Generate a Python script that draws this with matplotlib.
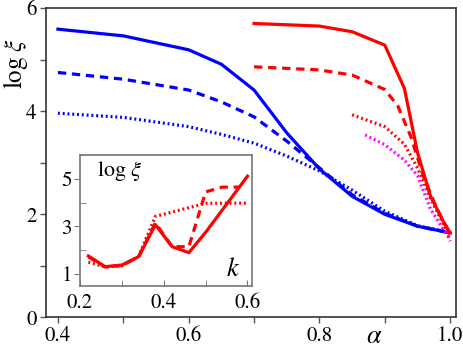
import matplotlib
matplotlib.use("Agg")
import matplotlib.pyplot as plt
from matplotlib.ticker import MultipleLocator, FixedLocator

plt.rcParams['font.family'] = ['STIXGeneral', 'Liberation Serif', 'DejaVu Serif']
plt.rcParams['mathtext.fontset'] = 'stix'

# ---- main panel data (alpha, log xi) ----
blue_solid_a = [0.4, 0.5, 0.6, 0.65, 0.7, 0.75, 0.8, 0.85, 0.9, 0.95, 1.0]
blue_solid_y = [5.59, 5.46, 5.19, 4.91, 4.41, 3.58, 2.88, 2.35, 2.0, 1.77, 1.64]
blue_dash_a = [0.4, 0.5, 0.6, 0.65, 0.7, 0.75, 0.8, 0.85, 0.9, 0.95, 1.0]
blue_dash_y = [4.75, 4.62, 4.41, 4.18, 3.89, 3.42, 2.9, 2.38, 2.02, 1.77, 1.64]
blue_dot_a = [0.4, 0.5, 0.6, 0.65, 0.7, 0.75, 0.8, 0.85, 0.9, 0.95, 1.0]
blue_dot_y = [3.96, 3.88, 3.7, 3.55, 3.38, 3.13, 2.84, 2.47, 2.06, 1.78, 1.65]

red_solid_a = [0.7, 0.8, 0.85, 0.9, 0.93, 0.95, 0.97, 0.99, 1.0]
red_solid_y = [5.70, 5.65, 5.54, 5.28, 4.44, 3.2, 2.35, 1.85, 1.64]
red_dash_a = [0.7, 0.8, 0.85, 0.9, 0.92, 0.94, 0.96, 0.98, 1.0]
red_dash_y = [4.86, 4.80, 4.70, 4.42, 4.1, 3.5, 2.7, 2.1, 1.62]
red_dot_a = [0.85, 0.9, 0.93, 0.95, 0.97, 0.99, 1.0]
red_dot_y = [3.93, 3.7, 3.36, 2.9, 2.3, 1.8, 1.48]
mag_dot_a = [0.87, 0.9, 0.93, 0.95, 0.97, 0.99, 1.0]
mag_dot_y = [3.54, 3.35, 3.05, 2.75, 2.1, 1.7, 1.55]

main_xticks = [0.4, 0.6, 0.8, 1.0]
main_xticklabels = ["0.4", "0.6", "0.8", "1.0"]
main_yticks = [0, 2, 4, 6]

# ---- inset data (k, log xi) ----
in_solid_k = [0.22, 0.26, 0.30, 0.34, 0.38, 0.42, 0.46, 0.50, 0.60]
in_solid_y = [1.76, 1.31, 1.38, 1.73, 3.07, 2.15, 1.9, 2.75, 5.11]
in_dash_k = [0.22, 0.26, 0.30, 0.34, 0.38, 0.42, 0.46, 0.50, 0.54, 0.58]
in_dash_y = [1.72, 1.3, 1.36, 1.72, 3.15, 2.15, 2.15, 4.45, 4.65, 4.65]
in_dot_k = [0.22, 0.26, 0.30, 0.34, 0.38, 0.50, 0.60]
in_dot_y = [1.5, 1.3, 1.35, 1.75, 3.42, 3.97, 3.98]

inset_xticks = [0.2, 0.4, 0.6]
inset_yticks = [1, 3, 5]

BLUE = '#0000ff'
RED = '#ff0000'
MAG = '#ff00ff'
LW = 2.3
DASH = (0, (2.6, 1.8))
DOT = (0, (0.6, 0.9))

fig = plt.figure(figsize=(4.63, 3.5), dpi=100)
ax = fig.add_axes([0.0983, 0.0929, 0.8867, 0.8842])

ax.plot(blue_solid_a, blue_solid_y, color=BLUE, lw=LW, ls='-')
ax.plot(blue_dash_a, blue_dash_y, color=BLUE, lw=LW, ls=DASH)
ax.plot(blue_dot_a, blue_dot_y, color=BLUE, lw=LW, ls=DOT)
ax.plot(red_solid_a, red_solid_y, color=RED, lw=LW, ls='-')
ax.plot(red_dash_a, red_dash_y, color=RED, lw=LW, ls=DASH)
ax.plot(red_dot_a, red_dot_y, color=RED, lw=LW, ls=DOT)
ax.plot(mag_dot_a, mag_dot_y, color=MAG, lw=LW, ls=DOT)

ax.set_xlim(0.381, 1.009)
ax.set_ylim(0, 6)
ax.xaxis.set_major_locator(FixedLocator(main_xticks))
ax.set_xticklabels(main_xticklabels)
ax.xaxis.set_minor_locator(MultipleLocator(0.1))
ax.yaxis.set_major_locator(FixedLocator(main_yticks))
ax.yaxis.set_minor_locator(MultipleLocator(1))
ax.tick_params(which='both', direction='out', length=4.5, width=1.0,
               color='#555555', labelsize=15, pad=2)
for s in ax.spines.values():
    s.set_color('#333333')
    s.set_linewidth(1.2)
ax.text(0.80, -0.062, r'$\alpha$', transform=ax.transAxes, fontsize=19,
        ha='center', va='center')
fig.text(15 / 463, 1 - 63 / 350, r'$\log\,\xi$', fontsize=18, rotation=90,
         ha='center', va='center')

# ---- inset ----
ins = fig.add_axes([0.1728, 0.1829, 0.3708, 0.3743])
ins.plot(in_solid_k, in_solid_y, color=RED, lw=LW, ls='-')
ins.plot(in_dash_k, in_dash_y, color=RED, lw=LW, ls=DASH)
ins.plot(in_dot_k, in_dot_y, color=RED, lw=LW, ls=DOT)
ins.set_xlim(0.2, 0.61)
ins.set_ylim(0.5, 6.0)
ins.xaxis.set_major_locator(FixedLocator(inset_xticks))
ins.xaxis.set_minor_locator(MultipleLocator(0.1))
ins.yaxis.set_major_locator(FixedLocator(inset_yticks))
ins.yaxis.set_minor_locator(MultipleLocator(1))
ins.tick_params(axis='x', which='both', direction='in', length=4, color='#777777',
                labelsize=15, pad=5)
ins.tick_params(axis='y', which='major', direction='out', length=4, color='#777777',
                labelsize=15, pad=2)
ins.tick_params(axis='y', which='minor', direction='in', length=4, color='#777777')
for s in ins.spines.values():
    s.set_color('#777777')
    s.set_linewidth(1.2)
ins.text(0.1, 0.97, r'$\log\,\xi$', transform=ins.transAxes, fontsize=16,
         ha='left', va='top')
ins.text(0.93, 0.03, r'$k$', transform=ins.transAxes, fontsize=19,
         ha='right', va='bottom')

fig.savefig('out.png', dpi=100)
